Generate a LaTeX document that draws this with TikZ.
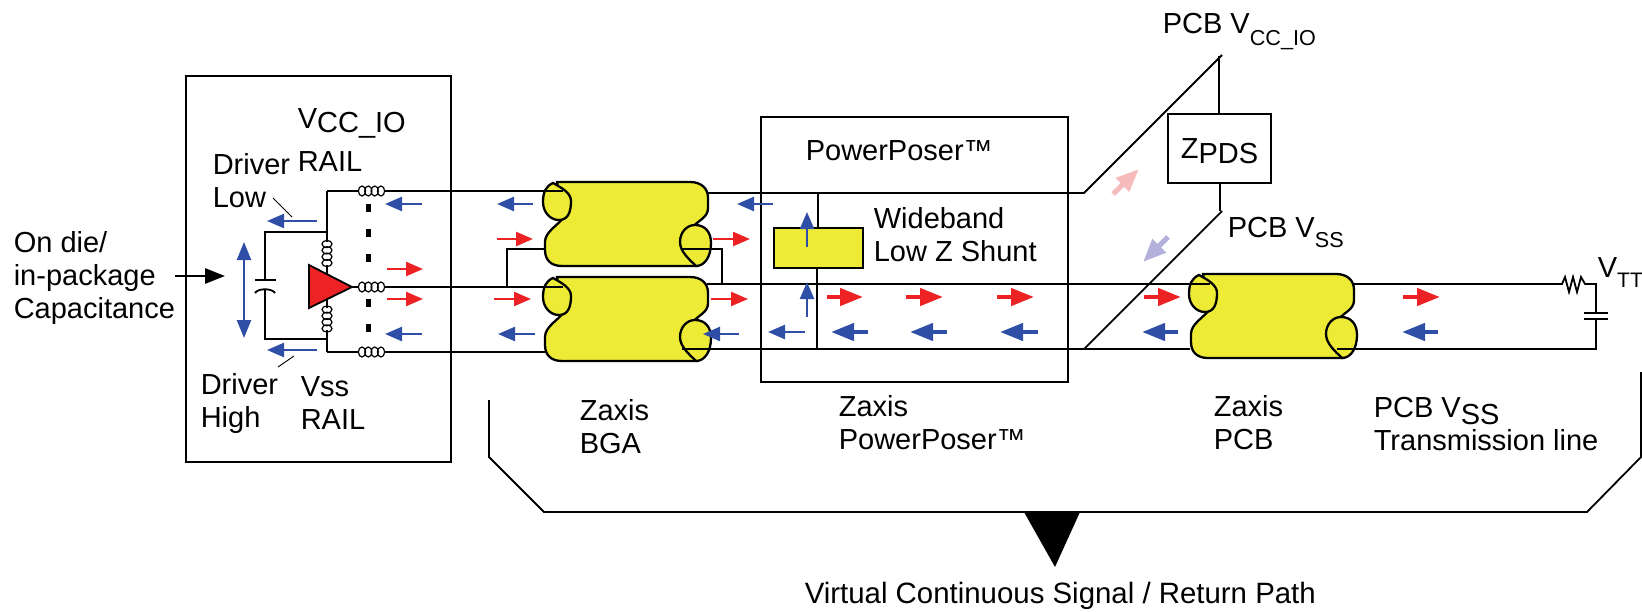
\documentclass[tikz,border=0pt]{standalone}
\usepackage{fontspec}
\setmainfont{Liberation Sans}
\usetikzlibrary{arrows.meta, positioning, calc}
\definecolor{sigred}{HTML}{ED2224}
\definecolor{retblue}{HTML}{2E4FA5}
\definecolor{viayellow}{HTML}{EEEB36}
\definecolor{palered}{HTML}{F6BCBC}
\definecolor{paleblue}{HTML}{B3B0DB}
\newcommand{\lowtxt}[3]{\raisebox{-#1}{\fontsize{#2}{#2}\selectfont #3}}

\begin{document}
\begin{tikzpicture}[x=0.5pt, y=-0.5pt, thick, font=\fontsize{14.5pt}{16.3pt}\selectfont]
	% Define styles
	\tikzstyle{rail} = [draw, line width=0.9pt]
	\tikzstyle{frame} = [draw, rectangle, line width=1pt, inner sep=0pt]
	\tikzstyle{label} = [anchor=base west, inner sep=0pt, align=left]
	\tikzstyle{leader} = [draw, line width=0.45pt]
	\tikzstyle{thinred} = [draw=sigred, line width=1.2pt, -{Triangle[length=8.5pt, width=7pt]}, sigred]
	\tikzstyle{thinblue} = [draw=retblue, line width=1.2pt, -{Triangle[length=8.5pt, width=7pt]}, retblue]
	\tikzstyle{fatred} = [draw=sigred, line width=2.2pt, -{Triangle[length=11.5pt, width=8.5pt]}, sigred]
	\tikzstyle{fatblue} = [draw=retblue, line width=2.2pt, -{Triangle[length=11.5pt, width=8.5pt]}, retblue]
	\tikzset{
		coil/.pic={
			\draw [line width=0.6pt] (-9.5,0) ellipse [x radius=3.6, y radius=5];
			\draw [line width=0.6pt] (-3.2,0) ellipse [x radius=3.6, y radius=5];
			\draw [line width=0.6pt] (3.2,0) ellipse [x radius=3.6, y radius=5];
			\draw [line width=0.6pt] (9.5,0) ellipse [x radius=3.6, y radius=5];
		},
		via/.pic={
			\draw [fill=viayellow, line width=1.15pt] (13,0) -- (146,0) .. controls (157,0) and (164,6) .. (164,16) -- (164,26) .. controls (164,36) and (154,38) .. (148,46) -- (153,84) -- (18,84) .. controls (7,84) and (1,78) .. (1,68) -- (1,60) .. controls (1,50) and (13,44) .. (19,36) -- cycle;
			\draw [fill=viayellow, line width=1.15pt] (9,1) .. controls (18,6) and (27,11) .. (27,19) .. controls (27,30) and (24,38) .. (15,38) .. controls (6,38) and (-1,30) .. (-1,20) .. controls (-1,10) and (2,4) .. (9,1) -- cycle;
			\draw [fill=viayellow, line width=1.15pt] (151,43) .. controls (161,43) and (167,50) .. (167,61) .. controls (167,74) and (161,84) .. (152,84) .. controls (146,78) and (136,70) .. (136,60) .. controls (136,50) and (143,43) .. (151,43) -- cycle;
		}
	}
	\useasboundingbox (0,0) rectangle (1642,611);

	% Boxes
	\node [frame, minimum width=132.5pt, minimum height=193pt] (package) at (318.5,269) {};
	\node [frame, minimum width=153.5pt, minimum height=132.5pt] (poser) at (914.5,249.5) {};
	\node [frame, minimum width=51.5pt, minimum height=34.5pt] (zpds) at (1219.5,148.5) {};

	% Vias
	\pic at (544,182) {via};
	\pic at (544,277) {via};
	\pic at (1190,274) {via};

	% Rail corners
	\node [coordinate] (vccrail) at (327,191) {};
	\node [coordinate] (vssrail) at (327,352) {};
	\node [coordinate] (captop) at (265,232) {};
	\node [coordinate] (capbot) at (265,339) {};
	\node [coordinate] (capplate) at (265,280) {};
	\node [coordinate] (capcurve) at (265,290) {};
	\node [coordinate] (railtop) at (327,232) {};
	\node [coordinate] (railbot) at (327,339) {};
	\node [coordinate] (drvtip) at (352,287) {};
	\node [coordinate] (pcbvcc) at (1222,55) {};
	\node [coordinate] (pcbvss) at (1222,211) {};
	\node [coordinate] (kneetop) at (1084,193) {};
	\node [coordinate] (kneebot) at (1084,349) {};
	\node [coordinate] (vtt) at (1596,284) {};
	\node [coordinate] (vttbot) at (1596,349) {};

	% Driver
	\draw [rail] (vccrail) -- (327,242);
	\draw [rail] (327,265) -- (327,274);
	\draw [rail] (327,300) -- (327,308);
	\draw [rail] (327,330) -- (vssrail);
	\draw [rail] (railtop) -- (captop) -- (capplate);
	\draw [rail] (railbot) -- (capbot) -- (capcurve);
	\draw [rail] (255,280) -- (276,280);
	\draw [rail] (255,293) .. controls (258,288) and (272,288) .. (275,293);
	\draw [fill=sigred, line width=0.9pt] (309,265) -- (drvtip) -- (309,308) -- cycle;
	\pic [rotate=90] at (327,253.5) {coil};
	\pic [rotate=90] at (327,319) {coil};
	\pic at (371.5,191) {coil};
	\pic at (371.5,287) {coil};
	\pic at (371.5,352) {coil};
	\draw [line width=2.5pt, dash pattern=on 4pt off 8.5pt] (368,204) -- (368,263);
	\draw [line width=2.5pt, dash pattern=on 4pt off 8.5pt] (368,299) -- (368,333);

	% Rails
	\draw [rail] (vccrail) -- (358,191);
	\draw [rail] (385,191) -- (563,191);
	\draw [rail] (drvtip) -- (358,287);
	\draw [rail] (385,287) -- (563,287);
	\draw [rail] (vssrail) -- (358,352);
	\draw [rail] (385,352) -- (545,352);
	\draw [rail] (545,249) -- (507,249) -- (507,287);
	\draw [rail] (682,249) -- (722,249) -- (722,284);
	\draw [rail] (707,193) -- (kneetop) -- (pcbvcc);
	\draw [rail] (707,284) -- (1210,284);
	\draw [rail] (682,349) -- (kneebot) -- (pcbvss);
	\draw [rail] (kneebot) -- (1190,349);
	\draw [rail] (1219,56) -- (zpds.north -| 1219,0);
	\draw [rail] (1220,183) -- (1220,211);
	\draw [rail] (1354,284) -- (1562,284) -- (1565,277) -- (1569,292) -- (1573,277) -- (1577,292) -- (1581,277) -- (1585,284) -- (vtt) -- (1596,313);
	\draw [rail] (1584,313) -- (1608,313);
	\draw [rail] (1584,319) -- (1608,319);
	\draw [rail] (1596,319) -- (vttbot) -- (1337,349);

	% Wideband shunt
	\node [frame, fill=viayellow, minimum width=44.5pt, minimum height=20pt] (shunt) at (818.5,248) {};
	\draw [rail] (818,193) -- (shunt.north -| 818,0);
	\draw [rail] (shunt.south -| 817,0) -- (817,349);

	% Input arrow and leaders
	\draw [line width=1.4pt, -{Triangle[length=10pt, width=7.5pt]}] (175,276) -- (225,276);
	\draw [retblue, line width=1.2pt, {Triangle[length=9pt, width=7pt]}-{Triangle[length=9pt, width=7pt]}] (244,242) -- (244,338);
	\draw [leader] (273,198) -- (292,217);
	\draw [leader] (278,367) -- (294,356);

	% Thin current arrows
	\draw [thinblue] (317,221) -- (267,221);
	\draw [thinblue] (317,350) -- (267,350);
	\draw [thinblue] (422,204) -- (385,204);
	\draw [thinred] (387,269) -- (423,269);
	\draw [thinred] (387,299) -- (423,299);
	\draw [thinblue] (422,334) -- (385,334);
	\draw [thinblue] (533,204) -- (497,204);
	\draw [thinred] (497,239) -- (533,239);
	\draw [thinred] (494,299) -- (531,299);
	\draw [thinblue] (535,334) -- (498,334);
	\draw [thinblue] (773,204) -- (737,204);
	\draw [thinred] (713,239) -- (750,239);
	\draw [thinred] (711,299) -- (748,299);
	\draw [thinblue] (739,334) -- (703,334);
	\draw [thinblue] (805,332) -- (768,332);
	\draw [thinblue] (807,247) -- (807,212);
	\draw [thinblue] (807,317) -- (807,282);

	% Thick current arrows
	\draw [fatred] (827,297) -- (863,297);
	\draw [fatred] (906,297) -- (943,297);
	\draw [fatred] (997,297) -- (1034,297);
	\draw [fatblue] (868,332) -- (831,332);
	\draw [fatblue] (947,332) -- (910,332);
	\draw [fatblue] (1038,332) -- (1000,332);
	\draw [fatred] (1144,297) -- (1181,297);
	\draw [fatblue] (1178,332) -- (1142,332);
	\draw [fatred] (1403,297) -- (1440,297);
	\draw [fatblue] (1438,332) -- (1402,332);
	\draw [draw=palered, line width=2.6pt, -{Triangle[length=11.5pt, width=9pt]}, palered] (1113,194) -- (1139,169);
	\draw [draw=paleblue, line width=2.6pt, -{Triangle[length=11.5pt, width=9pt]}, paleblue] (1168,237) -- (1143,262);

	% Bracket
	\node [coordinate] (brleft) at (489,400) {};
	\node [coordinate] (brright) at (1641,372) {};
	\draw [rail] (brleft) -- (489,457) -- (544,512) -- (1587,512) -- (1641,457) -- (brright);
	\fill (1024,512) -- (1080,512) -- (1055,567) -- cycle;

	% Labels
	\node [label] (oncap) at (13,318) {On die/\\in-package\\Capacitance};
	\node [label] (vccio) at (297,128) {V\lowtxt{2pt}{14.5pt}{CC\_IO}};
	\node [label] (vccrailtxt) at (297,171) {RAIL};
	\node [label] (drvlow) at (212,207) {Driver\\Low};
	\node [label] (drvhigh) at (200,427) {Driver\\High};
	\node [label] (vsstxt) at (300,429) {Vss\\RAIL};
	\node [label] (posertxt) at (805,160) {PowerPoser™};
	\node [label] (shunttxt) at (873,261) {Wideband\\Low Z Shunt};
	\node [label] (zbga) at (579,453) {Zaxis\\BGA};
	\node [label] (zposer) at (838,449) {Zaxis\\PowerPoser™};
	\node [label] (zpcb) at (1213,449) {Zaxis\\PCB};
	\node [label] (tline) at (1373,450) {PCB V\lowtxt{3.3pt}{14.5pt}{SS}\\Transmission line};
	\node [label] (vcctxt) at (1162,33) {PCB V\lowtxt{6pt}{10.8pt}{CC\_IO}};
	\node [label] (vsstop) at (1227,237) {PCB V\lowtxt{5pt}{10.8pt}{SS}};
	\node [label] (zpdstxt) at (1180,158) {Z\lowtxt{2.5pt}{14.5pt}{PDS}};
	\node [label] (vtttxt) at (1597,277) {V\lowtxt{5pt}{10.5pt}{TT}};
	\node [label, font=\fontsize{14.7pt}{16.3pt}\selectfont] (pathtxt) at (804,603) {Virtual Continuous Signal / Return Path};
\end{tikzpicture}
\end{document}
